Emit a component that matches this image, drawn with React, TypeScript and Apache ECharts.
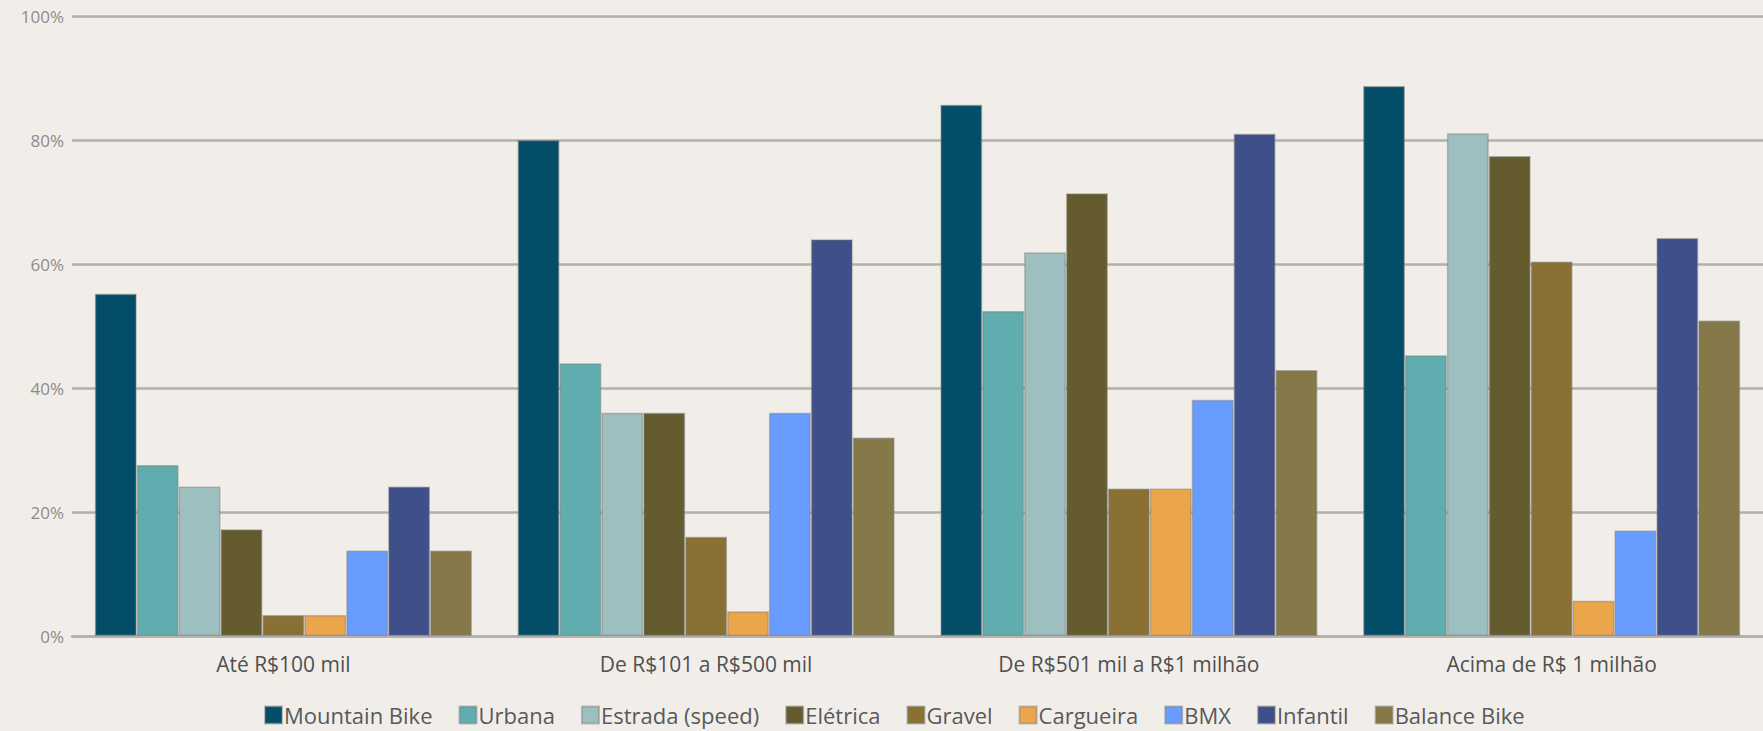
import React, { useEffect, useRef } from "react";
import * as echarts from "echarts";

// Faixas de preço (categorias do eixo X)
const categories = [
  "Até R$100 mil",
  "De R$101 a R$500 mil",
  "De R$501 mil a R$1 milhão",
  "Acima de R$ 1 milhão",
];

// Percentual por tipo de bicicleta em cada faixa
const mountainBike = [55.2, 80, 85.7, 88.7];
const urbana = [27.6, 44, 52.4, 45.3];
const estrada = [24.1, 36, 61.9, 81.1];
const eletrica = [17.2, 36, 71.4, 77.4];
const gravel = [3.4, 16, 23.8, 60.4];
const cargueira = [3.4, 4, 23.8, 5.7];
const bmx = [13.8, 36, 38.1, 17.0];
const infantil = [24.1, 64, 81.0, 64.2];
const balanceBike = [13.8, 32, 42.9, 50.9];

const seriesNames = [
  "Mountain Bike",
  "Urbana",
  "Estrada (speed)",
  "Elétrica",
  "Gravel",
  "Cargueira",
  "BMX",
  "Infantil",
  "Balance Bike",
];
const seriesValues = [
  mountainBike,
  urbana,
  estrada,
  eletrica,
  gravel,
  cargueira,
  bmx,
  infantil,
  balanceBike,
];
const seriesColors = [
  "#024e69",
  "#60adaf",
  "#9ebfc0",
  "#645c2f",
  "#8a7133",
  "#eba54a",
  "#699cff",
  "#3f4f89",
  "#857849",
];

const yTicks = [0, 20, 40, 60, 80, 100];

export default function App() {
  const ref = useRef<HTMLDivElement>(null);

  useEffect(() => {
    if (!ref.current) return;
    const chart = echarts.init(ref.current, undefined, { renderer: "svg" });
    chart.setOption({
      animation: false,
      backgroundColor: "#f1eeea",
      textStyle: { fontFamily: "Open Sans" },
      grid: { left: 72, right: -6, top: 16, bottom: 95, containLabel: false },
      legend: {
        top: 703,
        left: 264,
        padding: 0,
        itemWidth: 17,
        itemHeight: 17,
        itemGap: 26,
        icon: "rect",
        textStyle: {
          fontSize: 22,
          lineHeight: 24,
          color: "#595959",
          padding: [0, 0, 0, -3],
        },
        data: seriesNames,
      },
      xAxis: {
        type: "category",
        data: categories,
        axisTick: { show: false },
        axisLine: { lineStyle: { color: "#b3b0ac", width: 2.5 } },
        axisLabel: { fontSize: 21, color: "#505050", margin: 17 },
      },
      yAxis: {
        type: "value",
        min: yTicks[0],
        max: yTicks[yTicks.length - 1],
        interval: 20,
        axisLine: { show: false },
        axisTick: { show: false },
        axisLabel: { fontSize: 17, color: "#8c8c8c", margin: 8, formatter: "{value}%" },
        splitLine: { lineStyle: { color: "#b3b0ac", width: 2.5 } },
      },
      series: seriesNames.map((name, i) => ({
        name,
        type: "bar",
        data: seriesValues[i],
        barGap: "0%",
        barCategoryGap: "10.8%",
        itemStyle: {
          color: seriesColors[i],
          borderColor: "rgba(120,120,120,0.45)",
          borderWidth: 1.5,
        },
      })),
    });
    return () => chart.dispose();
  }, []);

  return (
    <div
      ref={ref}
      style={{ position: "fixed", left: 0, top: 0, width: 1763, height: 731 }}
    />
  );
}
